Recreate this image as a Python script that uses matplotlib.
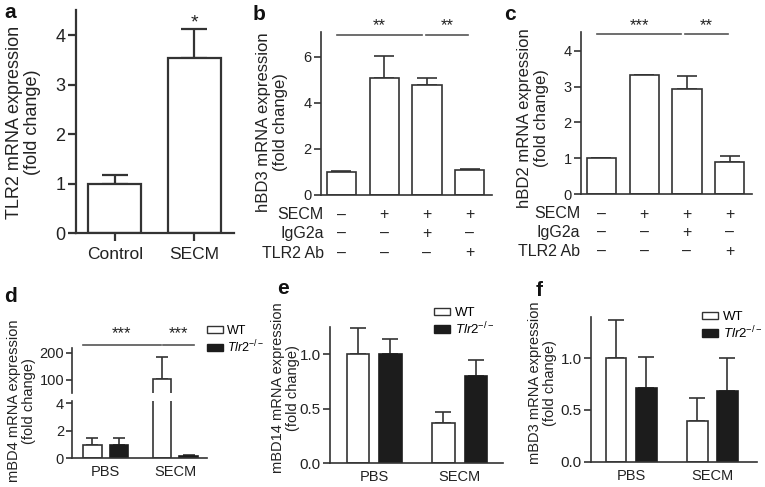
import numpy as np
import matplotlib
matplotlib.use('Agg')
import matplotlib.pyplot as plt
from matplotlib.patches import Patch
from matplotlib import transforms

plt.rcParams['font.family'] = ['Liberation Sans', 'DejaVu Sans']
plt.rcParams['mathtext.fontset'] = 'custom'
plt.rcParams['mathtext.rm'] = 'Liberation Sans'
plt.rcParams['mathtext.it'] = 'Liberation Sans:italic'

# ---- data ----
a_groups = ['Control', 'SECM']
a_mean = [1.0, 3.55]
a_err = [0.18, 0.57]

treat_rows = ['SECM', 'IgG2a', 'TLR2 Ab']
treat_signs = [['–', '+', '+', '+'],
               ['–', '–', '+', '–'],
               ['–', '–', '–', '+']]
b_mean = [1.0, 5.06, 4.77, 1.08]
b_err = [0.02, 0.97, 0.32, 0.06]
c_mean = [1.0, 3.31, 2.93, 0.91]
c_err = [0.01, 0.02, 0.36, 0.16]

mouse_groups = ['PBS', 'SECM']
d_wt = [1.0, 102.0]
d_wt_err = [0.46, 81.0]
d_ko = [0.97, 0.16]
d_ko_err = [0.53, 0.06]
e_wt = [1.0, 0.37]
e_wt_err = [0.24, 0.10]
e_ko = [1.0, 0.80]
e_ko_err = [0.14, 0.15]
f_wt = [1.0, 0.39]
f_wt_err = [0.37, 0.23]
f_ko = [0.71, 0.68]
f_ko_err = [0.30, 0.32]

LINE = '#333333'
SIG = '#555555'
TEXT = '#222222'
DARK = '#1c1c1c'

W, H = 765, 487
fig = plt.figure(figsize=(W / 100, H / 100), dpi=100)


def add_ax(left, top, right, bottom):
    return fig.add_axes([left / W, 1 - bottom / H, (right - left) / W, (bottom - top) / H])


def style(ax, lw=1.2, fs=10.5, ticklen=5):
    for s in ['top', 'right']:
        ax.spines[s].set_visible(False)
    for s in ['left', 'bottom']:
        ax.spines[s].set_color(LINE)
        ax.spines[s].set_linewidth(lw)
    ax.tick_params(axis='y', colors=LINE, labelcolor=TEXT, width=lw, length=ticklen,
                   labelsize=fs, pad=1.5)
    ax.tick_params(axis='x', colors=LINE, labelcolor=TEXT, width=lw, labelsize=fs)
    ax.patch.set_visible(False)


def ylabel(x, y, s, fs):
    fig.text(x / W, 1 - y / H, s, rotation=90, ha='center', va='center',
             fontsize=fs, color=TEXT, linespacing=1.15)


def letter(x, y, s):
    fig.text(x / W, 1 - y / H, s, ha='left', va='center', fontsize=15,
             fontweight='bold', color='#111111')


def sig(ax, x0, x1, y, ystar, stars, fs=12):
    ax.plot([x0, x1], [y, y], color=SIG, lw=1.2, clip_on=False)
    ax.text((x0 + x1) / 2, ystar, stars, ha='center', va='center', fontsize=fs,
            color=TEXT, clip_on=False)


# ---- panel a ----
ax = add_ax(76, 10.5, 234.3, 233.3)
style(ax, lw=1.6, fs=13, ticklen=6)
xa = np.arange(len(a_groups))
ax.bar(xa, a_mean, width=0.67, color='white', edgecolor=LINE, linewidth=1.6, zorder=2)
ax.errorbar(xa, a_mean, yerr=[np.zeros(2), a_err], fmt='none', ecolor=LINE,
            elinewidth=1.6, capsize=9.5, capthick=1.6, zorder=1)
ax.set_xlim(-0.49, 1.504)
ax.set_ylim(0, 4.5)
ax.set_yticks(range(5))
ax.set_xticks(xa)
ax.set_xticklabels(a_groups, fontsize=12.5)
ax.tick_params(axis='x', length=6, pad=4)
ax.text(1, 4.24, '*', ha='center', va='center', fontsize=14, color=TEXT)
ylabel(23.5, 122, 'TLR2 mRNA expression\n(fold change)', 13)
letter(4, 13, 'a')


# ---- panels b, c ----
def treat_panel(box, mean, err, ymax, yticks, lines, row_x, row_y, label_pos, label, let_pos, let):
    ax = add_ax(*box)
    style(ax, lw=1.2, fs=10.5, ticklen=5)
    x = np.arange(len(mean))
    ax.bar(x, mean, width=0.68, color='white', edgecolor=LINE, linewidth=1.2, zorder=2)
    ax.errorbar(x, mean, yerr=[np.zeros(len(mean)), err], fmt='none', ecolor=LINE,
                elinewidth=1.2, capsize=7, capthick=1.2, zorder=1)
    ax.set_xlim(-0.48, 3.51)
    ax.set_ylim(0, ymax)
    ax.set_yticks(yticks)
    ax.set_xticks([])
    for x0, x1, y, ys, st in lines:
        sig(ax, x0, x1, y, ys, st)
    tr = transforms.blended_transform_factory(ax.transData, fig.transFigure)
    for i, row in enumerate(treat_rows):
        fy = 1 - row_y[i] / H
        fig.text(row_x / W, fy, row, ha='right', va='center', fontsize=11.5, color=TEXT)
        for j, s in enumerate(treat_signs[i]):
            ax.text(x[j], fy, s, transform=tr, ha='center', va='center', fontsize=11.5,
                    color=TEXT, clip_on=False)
    ylabel(label_pos[0], label_pos[1], label, 12)
    letter(let_pos[0], let_pos[1], let)
    return ax


treat_panel((320.7, 32, 491.7, 195), b_mean, b_err, 7.07, [0, 2, 4, 6],
            [(-0.11, 1.88, 6.94, 7.33, '**'), (1.97, 2.96, 6.94, 7.33, '**')],
            323.5, [215, 233.5, 253], (272, 122),
            'hBD3 mRNA expression\n(fold change)', (253, 15), 'b')
treat_panel((580.7, 32.3, 751.7, 194.3), c_mean, c_err, 4.51, [0, 1, 2, 3, 4],
            [(-0.107, 1.87, 4.46, 4.7, '***'), (1.95, 2.96, 4.46, 4.7, '**')],
            580.5, [214, 232.7, 251.7], (533, 118),
            'hBD2 mRNA expression\n(fold change)', (504, 15), 'c')


# ---- panels d, e, f (WT vs Tlr2-/-) ----
def legend(ax, x, y, fs):
    handles = [Patch(facecolor='white', edgecolor=LINE, linewidth=1.0, label='WT'),
               Patch(facecolor=DARK, edgecolor=DARK, linewidth=1.0,
                     label=r'$\mathit{Tlr2}^{\mathrm{-/-}}$')]
    ax.legend(handles=handles, loc='upper left', bbox_to_anchor=(x / W, 1 - y / H),
              bbox_transform=fig.transFigure, frameon=False, fontsize=fs,
              handlelength=1.25, handleheight=0.5, handletextpad=0.35,
              labelspacing=0.1, borderpad=0, borderaxespad=0)


def mouse_bars(ax, wt, wt_err, ko, ko_err, off, width, cap):
    x = np.arange(len(mouse_groups))
    ax.bar(x - off, wt, width=width, color='white', edgecolor=LINE, linewidth=1.2, zorder=2)
    ax.bar(x + off, ko, width=width, color=DARK, edgecolor=DARK, linewidth=1.2, zorder=2)
    ax.errorbar(x - off, wt, yerr=[np.zeros(2), wt_err], fmt='none', ecolor=LINE,
                elinewidth=1.2, capsize=cap, capthick=1.2, zorder=1)
    ax.errorbar(x + off, ko, yerr=[np.zeros(2), ko_err], fmt='none', ecolor=LINE,
                elinewidth=1.2, capsize=cap, capthick=1.2, zorder=1)
    return x


# panel d: broken axis
lo = add_ax(71.7, 401.2, 206.7, 458.3)
hi = add_ax(71.7, 348, 206.7, 393.4)
for axx in (lo, hi):
    style(axx, lw=1.2, fs=10.5, ticklen=4)
    xd = mouse_bars(axx, d_wt, d_wt_err, d_ko, d_ko_err, 0.192, 0.264, 4)
    axx.set_xlim(-0.49, 1.454)
lo.set_ylim(0, 4.15)
lo.set_yticks([0, 2, 4])
lo.set_xticks(xd)
lo.set_xticklabels(mouse_groups, fontsize=10.5)
lo.tick_params(axis='x', length=0, pad=5)
hi.set_ylim(51, 217)
hi.set_yticks([100, 200])
hi.set_xticks([])
hi.spines['bottom'].set_visible(False)
sig(hi, -0.33, 0.79, 228, 268, '***')
sig(hi, 0.824, 1.27, 228, 268, '***')
legend(hi, 207, 325, 9)
ylabel(21.5, 401, 'mBD4 mRNA expression\n(fold change)', 10.5)
letter(4, 296, 'd')


def simple_mouse(box, wt, wt_err, ko, ko_err, off, width, xlim, ymax, leg_pos, label_pos, label, let_pos, let):
    ax = add_ax(*box)
    style(ax, lw=1.2, fs=11, ticklen=5)
    x = mouse_bars(ax, wt, wt_err, ko, ko_err, off, width, 5.5)
    ax.set_xlim(*xlim)
    ax.set_ylim(0, ymax)
    ax.set_yticks([0, 0.5, 1.0])
    ax.set_yticklabels(['0.0', '0.5', '1.0'])
    ax.set_xticks(x)
    ax.set_xticklabels(mouse_groups, fontsize=10.5)
    ax.tick_params(axis='x', length=0, pad=5)
    legend(ax, leg_pos[0], leg_pos[1], 9.5)
    ylabel(label_pos[0], label_pos[1], label, 10.5)
    letter(let_pos[0], let_pos[1], let)


simple_mouse((330, 327, 503, 463.3), e_wt, e_wt_err, e_ko, e_ko_err, 0.19, 0.263,
             (-0.517, 1.506), 1.25, (434, 307), (285.5, 388),
             'mBD14 mRNA expression\n(fold change)', (277, 289), 'e')
simple_mouse((590.7, 316.9, 757, 461.7), f_wt, f_wt_err, f_ko, f_ko_err, 0.186, 0.255,
             (-0.4975, 1.55), 1.40, (702, 311), (542.5, 383),
             'mBD3 mRNA expression\n(fold change)', (536, 290), 'f')

fig.savefig('out.png', dpi=100)
